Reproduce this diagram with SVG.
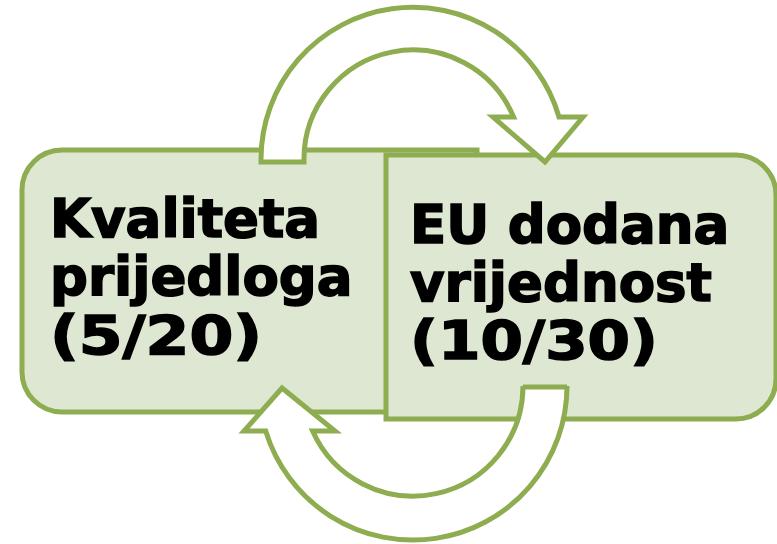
<svg xmlns="http://www.w3.org/2000/svg" width="777" height="544" viewBox="0 0 777 544">
<style>
.box{fill:#dee7d1;stroke:#8eac50;stroke-width:5}
.arrow{fill:#ffffff;stroke:#8eac50;stroke-width:5;stroke-linejoin:miter}
.lbl{font-family:"DejaVu Sans",Verdana,sans-serif;font-weight:bold;font-size:53px;fill:#000000;stroke:#000000;stroke-width:1.6}
</style>
<rect width="777" height="544" fill="#ffffff"/>
<g id="node-kvaliteta">
<path class="box" d="M62,150 H477 V412 H62 A40,40 0 0 1 22,372 V190 A40,40 0 0 1 62,150 Z"/>
<text class="lbl" x="50" y="237">Kvaliteta</text>
<text class="lbl" x="50" y="295">prijedloga</text>
<text class="lbl" x="50" y="354" textLength="212" lengthAdjust="spacingAndGlyphs">(5/20)</text>
</g>
<g id="node-eu">
<path class="box" d="M386,155 H736 A40,40 0 0 1 776,195 V379 A40,40 0 0 1 736,419 H386 Z"/>
<text class="lbl" x="410" y="243">EU dodana</text>
<text class="lbl" x="410" y="301">vrijednost</text>
<text class="lbl" x="410" y="359" textLength="248" lengthAdjust="spacingAndGlyphs">(10/30)</text>
</g>
<g id="connectors">
<path id="arrow-top" class="arrow" d="M261,162 V159 A152,152 0 0 1 559,117 H583 L545,162 L493,117 H513.6 A109,109 0 0 0 304,159 V162 Z"/>
<path id="arrow-bottom" class="arrow" d="M567,387 V386 A154,154 0 0 1 265.7,431 H244 L282,388 L335,431 H312.6 A110,110 0 0 0 523,386 V387 Z"/>
</g>
</svg>
